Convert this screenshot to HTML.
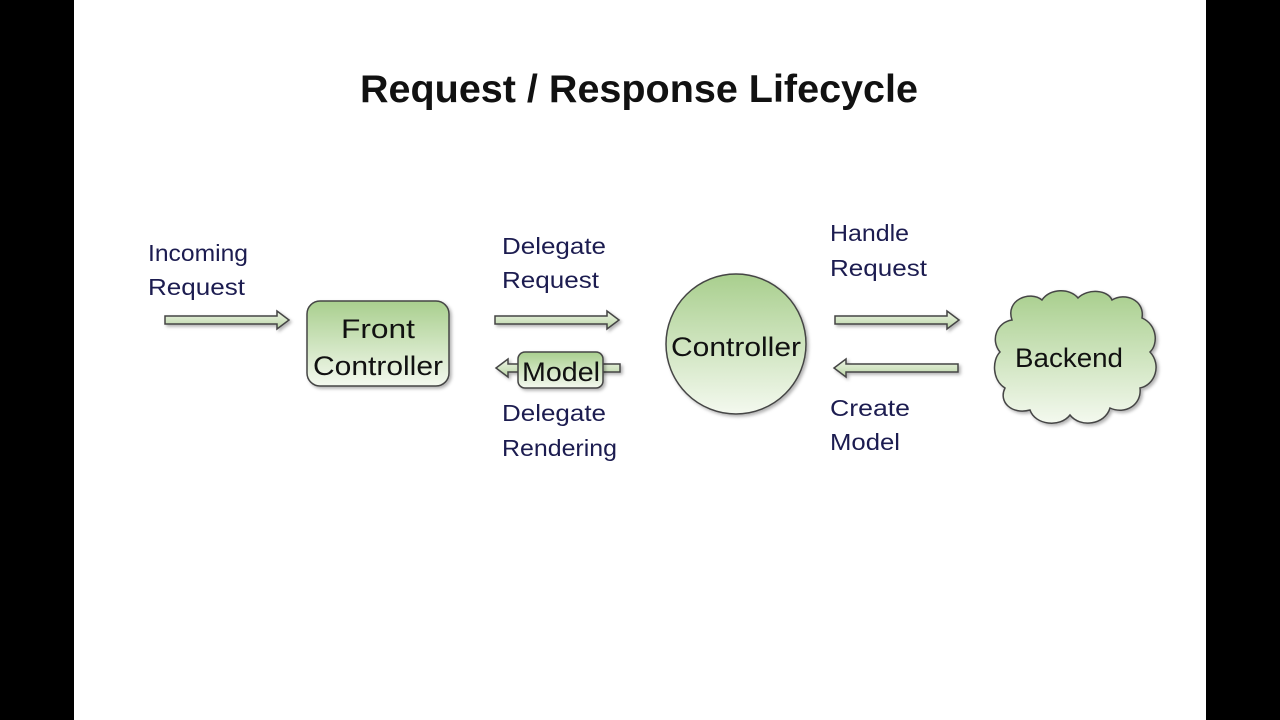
<!DOCTYPE html>
<html><head><meta charset="utf-8"><style>
html,body{margin:0;padding:0;background:#000;}
svg{display:block;}
text{font-family:"Liberation Sans",sans-serif;}
</style></head><body>
<svg width="1280" height="720" viewBox="0 0 1280 720" xmlns="http://www.w3.org/2000/svg">
<defs>
<linearGradient id="g" x1="0" y1="0" x2="0" y2="1"><stop offset="0" stop-color="#a9cf8e"/><stop offset="1" stop-color="#f4f9ef"/></linearGradient>
<linearGradient id="ga" x1="0" y1="0" x2="0" y2="1"><stop offset="0" stop-color="#eef5e6"/><stop offset="1" stop-color="#b9d4a4"/></linearGradient>
<filter id="sh" x="-20%" y="-20%" width="140%" height="140%"><feDropShadow dx="2" dy="2" stdDeviation="1.5" flood-color="#000" flood-opacity="0.3"/></filter>
</defs>
<rect x="74" y="0" width="1132" height="720" fill="#fff"/>
<text x="639" y="102" text-anchor="middle" font-size="39" font-weight="bold" fill="#111" textLength="558" lengthAdjust="spacingAndGlyphs">Request / Response Lifecycle</text>
<g fill="url(#ga)" stroke="#444" stroke-width="1.5" filter="url(#sh)">
<path d="M165 316 H277 V311 L289 320 L277 329 V324 H165 Z"/>
<path d="M495 316 H607 V311 L619 320 L607 329 V324 H495 Z"/>
<path d="M835 316 H947 V311 L959 320 L947 329 V324 H835 Z"/>
<path d="M620 364 H508 V359 L496 368 L508 377 V372 H620 Z"/>
<path d="M958 364 H846 V359 L834 368 L846 377 V372 H958 Z"/>
</g>
<g fill="url(#g)" stroke="#444" stroke-width="1.5" filter="url(#sh)">
<rect x="307" y="301" width="142" height="85" rx="13"/>
<rect x="518" y="352" width="85" height="36" rx="7"/>
<circle cx="736" cy="344" r="70"/>
<path d="M1012 320 C1005 300 1030 290 1042 300 C1050 288 1070 288 1078 298 C1088 288 1108 290 1112 300 C1125 292 1145 300 1142 318 C1158 325 1158 345 1150 352 C1162 365 1155 385 1140 388 C1142 405 1125 415 1110 408 C1105 425 1080 428 1070 415 C1060 428 1035 425 1030 410 C1012 415 998 402 1005 388 C992 380 992 360 1000 352 C990 340 997 322 1012 320 Z"/>
</g>
<g font-size="27" fill="#111" text-anchor="middle">
<text x="378" y="338" textLength="74" lengthAdjust="spacingAndGlyphs">Front</text>
<text x="378" y="375" textLength="130" lengthAdjust="spacingAndGlyphs">Controller</text>
<text x="561" y="381" textLength="78" lengthAdjust="spacingAndGlyphs">Model</text>
<text x="736" y="356" textLength="130" lengthAdjust="spacingAndGlyphs">Controller</text>
<text x="1069" y="367" textLength="108" lengthAdjust="spacingAndGlyphs">Backend</text>
</g>
<g font-size="23" fill="#1c1c50">
<text x="148" y="261" textLength="100" lengthAdjust="spacingAndGlyphs">Incoming</text>
<text x="148" y="295" textLength="97" lengthAdjust="spacingAndGlyphs">Request</text>
<text x="502" y="254" textLength="104" lengthAdjust="spacingAndGlyphs">Delegate</text>
<text x="502" y="288" textLength="97" lengthAdjust="spacingAndGlyphs">Request</text>
<text x="502" y="421" textLength="104" lengthAdjust="spacingAndGlyphs">Delegate</text>
<text x="502" y="456" textLength="115" lengthAdjust="spacingAndGlyphs">Rendering</text>
<text x="830" y="241" textLength="79" lengthAdjust="spacingAndGlyphs">Handle</text>
<text x="830" y="276" textLength="97" lengthAdjust="spacingAndGlyphs">Request</text>
<text x="830" y="416" textLength="80" lengthAdjust="spacingAndGlyphs">Create</text>
<text x="830" y="450" textLength="70" lengthAdjust="spacingAndGlyphs">Model</text>
</g>
</svg>
</body></html>
